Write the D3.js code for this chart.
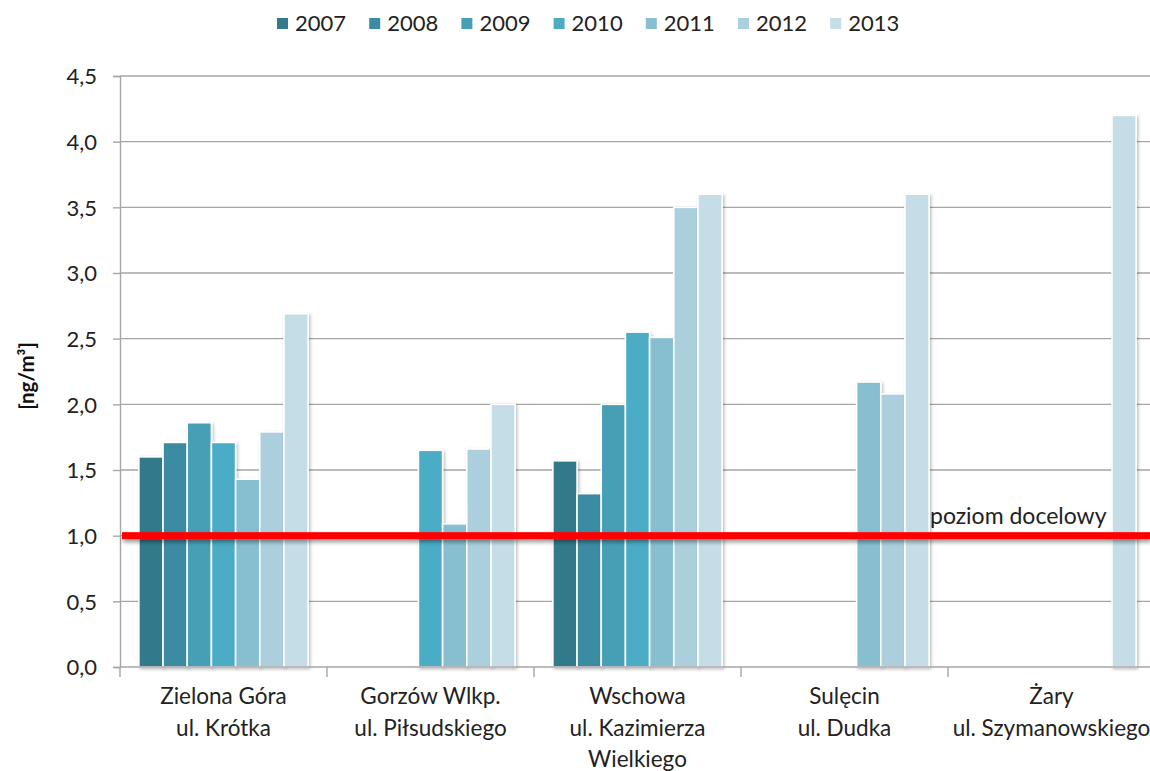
<!DOCTYPE html>
<html><head><meta charset="utf-8">
<script src="https://cdn.jsdelivr.net/npm/d3@7"></script>
<style>
html,body{margin:0;padding:0;background:#fff;}
svg{display:block;font-family:Lato,"Open Sans",sans-serif;}
</style></head>
<body>
<svg id="chart" width="1150" height="771"></svg>
<script>
const categories = [
  ["Zielona Góra","ul. Krótka"],
  ["Gorzów Wlkp.","ul. Piłsudskiego"],
  ["Wschowa","ul. Kazimierza","Wielkiego"],
  ["Sulęcin","ul. Dudka"],
  ["Żary","ul. Szymanowskiego"]
];
const years = ["2007","2008","2009","2010","2011","2012","2013"];
const colors = ["#337a8b","#3b8ba2","#479fb6","#4bacc6","#87bfd1","#abcfdd","#c5dde7"];
// values per year, one per category (null = no data)
const v2007 = [1.60, null, 1.57, null, null];
const v2008 = [1.71, null, 1.32, null, null];
const v2009 = [1.86, null, 2.00, null, null];
const v2010 = [1.71, 1.65, 2.55, null, null];
const v2011 = [1.43, 1.09, 2.51, 2.17, null];
const v2012 = [1.79, 1.66, 3.50, 2.08, null];
const v2013 = [2.69, 2.00, 3.60, 3.60, 4.20];
const series = [v2007,v2008,v2009,v2010,v2011,v2012,v2013];
const yTicks = [0,0.5,1,1.5,2,2.5,3,3.5,4,4.5];
const targetLevel = 1.0;
const targetLabel = "poziom docelowy";
const yTitle = "[ng/m³]";

(function(){
const svg = d3.select("#chart");
const mL = 120, mR = 1155, mT = 76, mB = 667;

const defs = svg.append("defs");
const f = defs.append("filter").attr("id","sh").attr("x","-20%").attr("y","-20%").attr("width","150%").attr("height","150%");
f.append("feDropShadow").attr("dx",1.5).attr("dy",1.5).attr("stdDeviation",1.5).attr("flood-color","#000").attr("flood-opacity",0.25);
const f2 = defs.append("filter").attr("id","sh2").attr("filterUnits","userSpaceOnUse")
  .attr("x",0).attr("y",500).attr("width",1150).attr("height",80);
f2.append("feDropShadow").attr("dx",1).attr("dy",3).attr("stdDeviation",2.2).attr("flood-color","#000").attr("flood-opacity",0.4);

const x0 = d3.scaleBand().domain(d3.range(categories.length)).range([mL, mR]).padding(0);
const x1 = d3.scaleBand().domain(years).range([0, x0.bandwidth()]).paddingOuter(0.78).paddingInner(0);
const y = d3.scaleLinear().domain([0,4.5]).range([mB, mT]);

// gridlines
svg.append("g").selectAll("line").data(yTicks.filter(d=>d>0)).join("line")
  .attr("x1",mL).attr("x2",1150).attr("y1",d=>y(d)).attr("y2",d=>y(d))
  .attr("stroke","#a6a6a6").attr("stroke-width",1.4);

// y axis
const yAxis = d3.axisLeft(y).tickValues(yTicks).tickSize(7).tickPadding(16)
  .tickFormat(d=>d3.format(".1f")(d).replace(".",","));
const gy = svg.append("g").attr("transform",`translate(${mL},0)`).call(yAxis);
gy.select(".domain").attr("stroke","#a6a6a6").attr("stroke-width",1.4);
gy.selectAll(".tick line").attr("stroke","#a6a6a6").attr("stroke-width",1.4);
gy.selectAll(".tick text").attr("font-size",22).attr("fill","#222").attr("font-family","Lato, sans-serif").attr("dy","0.36em");

// bars
const rows = [];
series.forEach((s,i)=>s.forEach((v,c)=>{ if(v!=null) rows.push({c, year:years[i], i, v}); }));
svg.append("g").selectAll("rect").data(rows).join("rect")
  .attr("x",d=>x0(d.c)+x1(d.year))
  .attr("width",x1.bandwidth())
  .attr("y",d=>y(d.v))
  .attr("height",d=>y(0)-y(d.v))
  .attr("fill",d=>colors[d.i])
  .attr("stroke","#fff").attr("stroke-width",1.6)
  .attr("filter","url(#sh)");

// x axis
const xAxis = d3.axisBottom(x0).tickSize(0).tickFormat("");
const gx = svg.append("g").attr("transform",`translate(0,${mB})`).call(xAxis);
gx.select(".domain").attr("stroke","#a6a6a6").attr("stroke-width",1.4).attr("d",`M${mL},0H1150`);
svg.append("g").selectAll("line").data(d3.range(categories.length+1)).join("line")
  .attr("x1",i=>mL+i*x0.bandwidth()).attr("x2",i=>mL+i*x0.bandwidth())
  .attr("y1",mB).attr("y2",mB+10).attr("stroke","#a6a6a6").attr("stroke-width",1.4);

// category labels
const cl = svg.append("g").selectAll("text").data(categories).join("text")
  .attr("text-anchor","middle").attr("font-size",22.5).attr("fill","#222")
  .attr("transform",(d,i)=>`translate(${x0(i)+x0.bandwidth()/2},0)`);
cl.selectAll("tspan").data(d=>d).join("tspan")
  .attr("x",0).attr("y",(d,j)=>704+j*31.5).text(d=>d);

// target line
svg.append("rect").attr("x",mL+2).attr("width",1150-mL-2)
  .attr("y",y(targetLevel)-3.5).attr("height",7)
  .attr("fill","#ff0000").attr("filter","url(#sh2)");
svg.append("text").attr("x",930).attr("y",y(targetLevel)-12)
  .attr("font-size",23).attr("fill","#222").text(targetLabel);

// y title
svg.append("text").attr("transform","translate(34,376) rotate(-90)")
  .attr("text-anchor","middle").attr("font-size",20.5).attr("font-weight","bold").attr("fill","#111")
  .text(yTitle);

// legend
const lg = svg.append("g").selectAll("g").data(years).join("g")
  .attr("transform",(d,i)=>`translate(${277+i*92.2},0)`);
lg.append("rect").attr("x",0).attr("y",18).attr("width",11).attr("height",11).attr("fill",(d,i)=>colors[i]);
lg.append("text").attr("x",18).attr("y",31).attr("font-size",22).attr("fill","#222").text(d=>d);
})();
</script>
</body></html>
